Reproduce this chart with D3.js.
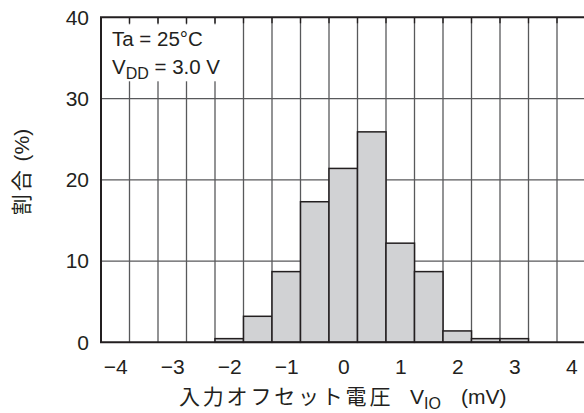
<!DOCTYPE html>
<html>
<head>
<meta charset="utf-8">
<script src="https://cdn.jsdelivr.net/npm/d3@7"></script>
<style>
  body { margin: 0; background: #fff; }
  svg { display: block; }
  text { font-family: "Liberation Sans", Arial, "Noto Sans CJK JP", sans-serif; fill: #231f20; }
  .cjk { font-family: "Noto Sans CJK JP", sans-serif; }
</style>
</head>
<body>
<svg id="chart" width="584" height="413"></svg>
<script>
// bin centres (mV) and share of units (%)
const binCenters = [-4, -3.5, -3, -2.5, -2, -1.5, -1, -0.5, 0, 0.5, 1, 1.5, 2, 2.5, 3, 3.5, 4];
const percents   = [0, 0, 0, 0, 0.45, 3.2, 8.7, 17.3, 21.4, 25.9, 12.2, 8.7, 1.4, 0.45, 0.45, 0, 0];
const xTicks = [-4, -3, -2, -1, 0, 1, 2, 3, 4];
const yTicks = [0, 10, 20, 30, 40];
const yGrid = [10, 20, 30];
const binWidth = 0.5;

const svg = d3.select('#chart');
const pLeft = 101, pRight = 585.5, pTop = 17.3, pBottom = 342.3;

const x = d3.scaleLinear().domain([-4.25, 4.25]).range([pLeft, pRight]);
const y = d3.scaleLinear().domain([0, 40]).range([pBottom, pTop]);

// grid lines (behind bars)
const xEdges = binCenters.slice(1).map(c => c - binWidth / 2);
svg.append('g').selectAll('line')
  .data(xEdges).enter().append('line')
  .attr('x1', d => x(d)).attr('x2', d => x(d))
  .attr('y1', pTop).attr('y2', pBottom)
  .attr('stroke', '#58595b').attr('stroke-width', 1.3);

svg.append('g').selectAll('line')
  .data(yGrid).enter().append('line')
  .attr('x1', pLeft).attr('x2', pRight)
  .attr('y1', d => y(d)).attr('y2', d => y(d))
  .attr('stroke', '#58595b').attr('stroke-width', 1.3);

// white box behind the conditions note
svg.append('rect')
  .attr('x', pLeft + 1).attr('y', pTop + 7)
  .attr('width', 134).attr('height', 57)
  .attr('fill', '#fff');

// small inward ticks
svg.append('g').selectAll('line')
  .data(xEdges).enter().append('line')
  .attr('x1', d => x(d)).attr('x2', d => x(d))
  .attr('y1', pTop).attr('y2', pTop + 6)
  .attr('stroke', '#231f20').attr('stroke-width', 1.3);

// bars
svg.append('g').selectAll('rect')
  .data(binCenters.map((c, i) => ({ c, v: percents[i] })).filter(d => d.v > 0))
  .enter().append('rect')
  .attr('x', d => x(d.c - binWidth / 2))
  .attr('y', d => y(d.v))
  .attr('width', d => x(d.c + binWidth / 2) - x(d.c - binWidth / 2))
  .attr('height', d => y(0) - y(d.v))
  .attr('fill', '#d1d2d4')
  .attr('stroke', '#231f20')
  .attr('stroke-width', 1.5);

// frame
svg.append('path')
  .attr('d', `M${pRight},${pTop}H${pLeft}V${pBottom}H${pRight}`)
  .attr('fill', 'none')
  .attr('stroke', '#231f20')
  .attr('stroke-width', 2);

// axes labels
const xAxis = svg.append('g')
  .attr('transform', `translate(0,${pBottom})`)
  .call(d3.axisBottom(x).tickValues(xTicks).tickSize(0).tickPadding(17));
xAxis.select('.domain').remove();
xAxis.selectAll('text').attr('font-size', 21).attr('fill', '#231f20')
  .style('font-family', '"Liberation Sans", Arial, sans-serif');

const yAxis = svg.append('g')
  .attr('transform', `translate(${pLeft},0)`)
  .call(d3.axisLeft(y).tickValues(yTicks).tickSize(0).tickPadding(12));
yAxis.select('.domain').remove();
yAxis.selectAll('text').attr('font-size', 21).attr('fill', '#231f20')
  .style('font-family', '"Liberation Sans", Arial, sans-serif');

// conditions note
svg.append('text').attr('x', 112).attr('y', 46).attr('font-size', 20.5)
  .text('Ta = 25°C');
const vdd = svg.append('text').attr('x', 112).attr('y', 74).attr('font-size', 20.5);
vdd.append('tspan').text('V');
vdd.append('tspan').attr('font-size', 16).attr('dy', 5).text('DD');
vdd.append('tspan').attr('dy', -5).text(' = 3.0 V');

// x title
svg.append('text').attr('class', 'cjk')
  .attr('x', 179).attr('y', 404).attr('font-size', 21)
  .attr('letter-spacing', 2.8)
  .text('入力オフセット電圧');
const vio = svg.append('text').attr('x', 410).attr('y', 404).attr('font-size', 21);
vio.append('tspan').text('V');
vio.append('tspan').attr('font-size', 16).attr('dy', 5).text('IO');
vio.append('tspan').attr('dy', -5).attr('x', 461).text('(mV)');

// y title
const yt = svg.append('text')
  .attr('transform', 'translate(29,172) rotate(-90)')
  .attr('text-anchor', 'middle')
  .attr('font-size', 21);
yt.append('tspan').attr('class', 'cjk').attr('letter-spacing', 3).text('割合');
yt.append('tspan').text('  (%)');
</script>
</body>
</html>
